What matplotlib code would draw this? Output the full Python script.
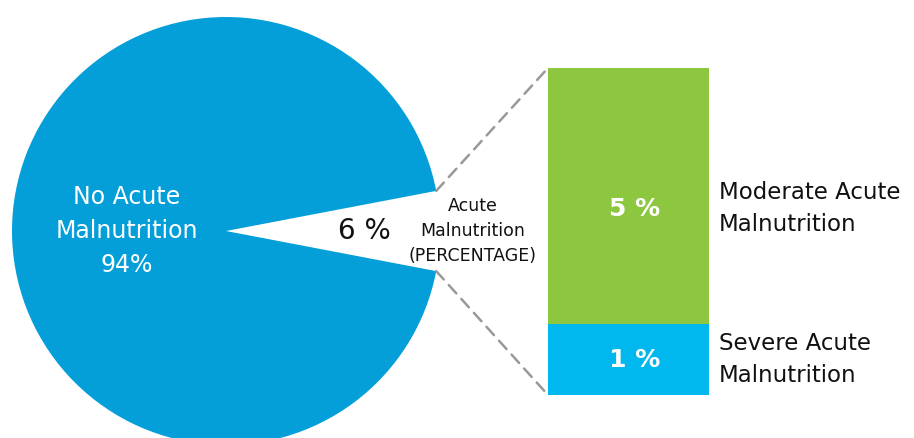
import matplotlib
matplotlib.use("Agg")
import matplotlib.pyplot as plt
from matplotlib.patches import ConnectionPatch
import numpy as np

plt.rcParams['font.family'] = ['DejaVu Sans']

# Data
pie_labels = ["No Acute\nMalnutrition", "Acute\nMalnutrition\n(PERCENTAGE)"]
pie_values = [94, 6]
bar_categories = ["Severe Acute\nMalnutrition", "Moderate Acute\nMalnutrition"]
bar_values = [1.3, 4.7]
bar_value_labels = ["1 %", "5 %"]

W, H = 914, 438
fig = plt.figure(figsize=(W / 100, H / 100), dpi=100)

# Pie axes: center (226,231) px, radius 214 px
cx, cy, r = 226, 231, 214
ax = fig.add_axes([(cx - r) / W, (H - cy - r) / H, 2 * r / W, 2 * r / H])
half = pie_values[1] / sum(pie_values) * 360 / 2
wedges, _ = ax.pie(pie_values, radius=1, startangle=half, counterclock=True,
                   colors=["#049FD9", "none"], wedgeprops=dict(linewidth=0))
ax.set_xlim(-1, 1)
ax.set_ylim(-1, 1)
ax.set_aspect('equal')
ax.axis('off')
for w in wedges:
    w.set_clip_on(False)
ax.text(-0.465, 0, pie_labels[0] + "\n%d%%" % pie_values[0], color="white",
        fontsize=17, ha="center", va="center", linespacing=1.55)
ax.text(0.645, 0.0, "%d %%" % pie_values[1], color="#111111", fontsize=20,
        ha="center", va="center")

# Bar axes
bx0, bx1, by0, by1 = 548, 709, 68, 395
bax = fig.add_axes([bx0 / W, (H - by1) / H, (bx1 - bx0) / W, (by1 - by0) / H])
total = sum(bar_values)
bax.set_xlim(-0.5, 0.5)
bax.set_ylim(0, total)
bax.axis('off')
bar_colors = ["#00B8EE", "#8DC63F"]
label_shift = [0.0, -0.23]
bottom = 0
for v, c, lab, cat, s in zip(bar_values, bar_colors, bar_value_labels,
                             bar_categories, label_shift):
    bax.bar(0, v, width=1, bottom=bottom, color=c, linewidth=0)
    bax.text(0.04, bottom + v / 2 + s, lab, color="white", fontsize=18,
             fontweight="bold", ha="center", va="center")
    bax.text(0.56, bottom + v / 2 + s, cat, color="#111111",
             fontsize=16.5, ha="left", va="center", linespacing=1.5,
             clip_on=False)
    bottom += v

# Center label for the acute wedge
fig.text(473 / W, (H - 231) / H, pie_labels[1], color="#111111", fontsize=12.5,
         ha="center", va="center", linespacing=1.5)

# Connector lines
a1 = np.deg2rad(half)
for ang, ycorner in [(a1, total), (-a1, 0)]:
    con = ConnectionPatch(xyA=(np.cos(ang), np.sin(ang)), coordsA=ax.transData,
                          xyB=(-0.5, ycorner), coordsB=bax.transData,
                          color="#999999", linestyle=(0, (4.5, 3)), linewidth=1.8)
    fig.add_artist(con)

fig.savefig("out.png", dpi=100)
